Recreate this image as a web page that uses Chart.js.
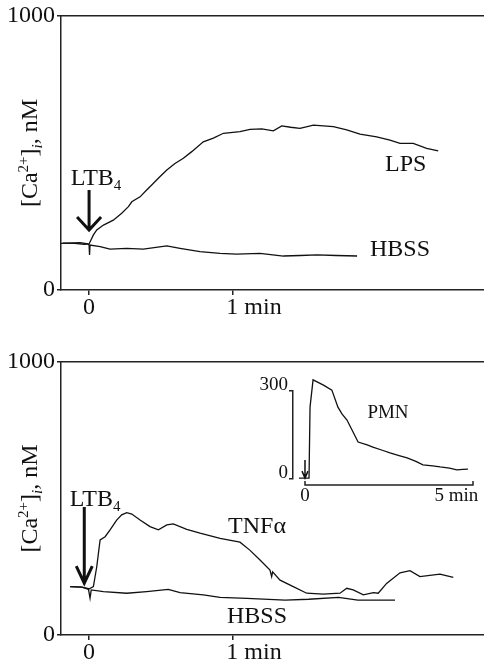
<!DOCTYPE html>
<html>
<head>
<meta charset="utf-8">
<script src="https://cdn.jsdelivr.net/npm/chart.js@4.4.0/dist/chart.umd.min.js"></script>
<style>
  body { margin: 0; background: #fff; }
  #wrap { position: relative; width: 484px; height: 667px; overflow: hidden; }
  canvas { position: absolute; }
</style>
</head>
<body>
<div id="wrap">
  <canvas id="top" width="484" height="330" style="left:0;top:0"></canvas>
  <canvas id="bottom" width="484" height="337" style="left:0;top:330px"></canvas>
  <canvas id="inset" width="234" height="150" style="left:250px;top:360px"></canvas>
</div>
<script>
// time in seconds after LTB4, [Ca2+]i in nM
var lpsSec = [-11, -6, -2, 0, 1.8, 3.2, 6.0, 10.1, 13.6, 16.4, 17.8, 21.25, 24, 26.1, 29.6, 32.4, 35.8, 39.3, 42.8, 47.6, 51.8, 56, 62.9, 67.1, 72, 76.8, 80.3, 84, 87.9, 93.5, 101.8, 107.4, 112.9, 119.9, 125.4, 129.6, 135.1, 140.7, 145.5];
var lpsCa = [171, 170, 167, 168, 201, 219, 237, 255, 280, 304, 322, 340, 365, 383, 414, 438, 462, 481, 505, 541, 554, 572, 578, 586, 588, 581, 599, 594, 590, 602, 596, 584, 569, 559, 547, 535, 535, 517, 508];

var hbssTopSec = [-12, -3.75, -0.5, 0, 0.2, 0.4, 4.6, 8.75, 15.7, 22.6, 32.4, 37.9, 46.25, 54.6, 61.5, 71.25, 81, 88, 95, 103, 111.7];
var hbssTopCa = [170, 173, 168, 164, 128, 164, 158, 149, 152, 149, 161, 152, 140, 134, 131, 134, 124, 126, 128, 126, 124];

var tnfSec = [-7.9, -3, -0.3, 1.8, 3.2, 4.6, 6.7, 8.75, 11.5, 13.6, 15.7, 17.8, 21.25, 25.4, 28.9, 32.4, 35.1, 40.7, 46.25, 54.6, 62.9, 67.1, 71.25, 75.4, 76.1, 76.5, 79.6, 85.1, 90.7, 97.6, 104.6, 107.4, 110.1, 114.3, 118.5, 120.5, 124, 129.6, 133.75, 137.9, 146.25, 151.8];
var tnfCa = [177, 175, 167, 177, 250, 348, 360, 385, 421, 440, 448, 443, 421, 397, 385, 403, 407, 387, 373, 354, 340, 310, 275, 238, 214, 231, 201, 177, 153, 150, 153, 171, 165, 147, 155, 153, 189, 228, 236, 214, 223, 211];

var hbssBotSec = [-7.9, -3, -0.3, 0.4, 0.9, 6.0, 15.7, 24, 33, 37.9, 47.6, 54.6, 65.8, 81.7, 91.5, 104, 112, 127.5];
var hbssBotCa = [177, 175, 170, 135, 165, 159, 153, 159, 167, 155, 147, 138, 134, 128, 131, 138, 128, 128];

// inset: PMN, time in minutes
var pmnMin = [-0.18, -0.03, 0.12, 0.15, 0.24, 0.36, 0.55, 0.8, 0.98, 1.1, 1.25, 1.4, 1.58, 1.85, 2.02, 2.3, 2.53, 2.8, 3.04, 3.3, 3.51, 3.8, 4.02, 4.3, 4.52, 4.7, 4.85];
var pmnCa = [3, 3, 3, 245, 338, 331, 320, 303, 245, 222, 201, 167, 126, 116, 109, 98, 89, 80, 72, 60, 48, 45, 41, 37, 31, 33, 34];

var yTicks = [0, 1000];
var xTicks = [0, 60];
var xTickLabels = ['0', '\u00a0\u00a0\u00a0\u00a0\u00a0\u00a0\u00a01 min'];
var insetYTicks = [0, 300];
var insetXTicks = [0, 5];
var insetXTickLabels = ['0', '5 min\u00a0\u00a0\u00a0\u00a0\u00a0\u00a0\u00a0'];

var INK = '#111';
var AXIS = '#222';
Chart.defaults.font.family = "'Liberation Serif', 'Times New Roman', serif";
Chart.defaults.color = INK;

function xy(xs, ys) {
  return xs.map(function (x, i) { return { x: x, y: ys[i] }; });
}

function fixSize(prop, val) {
  return function (scale) {
    scale[prop] = val;
    scale.paddingLeft = 0; scale.paddingRight = 0;
    scale.paddingTop = 0; scale.paddingBottom = 0;
  };
}

function setTicks(values) {
  return function (scale) {
    scale.ticks = values.map(function (v) { return { value: v }; });
  };
}

function plain(v) { return String(v); }

function drawRich(ctx, parts, cx, cy, size) {
  var fam = Chart.defaults.font.family;
  function fontOf(p) {
    return (p.italic ? 'italic ' : '') + (p.sup || p.sub ? Math.round(size * 0.62) : size) + 'px ' + fam;
  }
  var w = 0;
  parts.forEach(function (p) { ctx.font = fontOf(p); w += ctx.measureText(p.t).width; });
  var x = cx - w / 2;
  var base = cy + size * 0.33;
  ctx.textBaseline = 'alphabetic';
  ctx.textAlign = 'left';
  ctx.fillStyle = INK;
  parts.forEach(function (p) {
    ctx.font = fontOf(p);
    var dy = p.sup ? -size * 0.38 : (p.sub ? size * 0.22 : 0);
    ctx.fillText(p.t, x, base + dy);
    x += ctx.measureText(p.t).width;
  });
}

function drawArrow(ctx, x, y1, y2, hw, hh, lw) {
  ctx.strokeStyle = INK;
  ctx.lineWidth = lw;
  ctx.lineJoin = 'miter';
  ctx.beginPath();
  ctx.moveTo(x, y1);
  ctx.lineTo(x, y2);
  ctx.moveTo(x - hw, y2 - hh);
  ctx.lineTo(x, y2);
  ctx.lineTo(x + hw, y2 - hh);
  ctx.stroke();
}

var notesPlugin = {
  id: 'notes',
  afterDatasetsDraw: function (chart, args, opts) {
    var ctx = chart.ctx, xs = chart.scales.x, ys = chart.scales.y;
    ctx.save();
    (opts.arrows || []).forEach(function (a) {
      drawArrow(ctx, xs.getPixelForValue(a.x), ys.getPixelForValue(a.from), ys.getPixelForValue(a.to), a.hw, a.hh, a.lw);
    });
    (opts.labels || []).forEach(function (l) {
      drawRich(ctx, l.parts, xs.getPixelForValue(l.x), ys.getPixelForValue(l.y), l.size);
    });
    if (opts.yTitle) {
      var ca = chart.chartArea;
      ctx.translate(opts.yTitle.x, (ca.top + ca.bottom) / 2);
      ctx.rotate(-Math.PI / 2);
      drawRich(ctx, opts.yTitle.parts, 0, 0, opts.yTitle.size);
      ctx.setTransform(1, 0, 0, 1, 0, 0);
    }
    if (opts.axisLine) {
      var a = opts.axisLine;
      var yb = chart.chartArea.bottom + a.offset;
      var x0 = xs.getPixelForValue(a.from), x1 = xs.getPixelForValue(a.to);
      ctx.strokeStyle = AXIS;
      ctx.lineWidth = 1.5;
      ctx.beginPath();
      ctx.moveTo(x0, yb - a.tick); ctx.lineTo(x0, yb); ctx.lineTo(x1, yb); ctx.lineTo(x1, yb - a.tick);
      ctx.stroke();
    }
    ctx.restore();
  }
};

var caTitle = [{ t: '[Ca' }, { t: '2+', sup: true }, { t: ']' }, { t: 'i', sub: true, italic: true }, { t: ', nM' }];
var ltb4 = [{ t: 'LTB' }, { t: '4', sub: true }];

function trace(points) {
  return { data: points, borderColor: INK, borderWidth: 1.3, pointRadius: 0, tension: 0, fill: false };
}

function panel(id, datasets, topH, bottomH, notes) {
  return new Chart(document.getElementById(id), {
    type: 'line',
    data: { datasets: datasets },
    plugins: [notesPlugin],
    options: {
      responsive: false,
      animation: false,
      layout: { padding: 0 },
      plugins: { legend: { display: false }, tooltip: { enabled: false }, notes: notes },
      scales: {
        x: {
          type: 'linear', position: 'bottom', min: -11.7, max: 164.6,
          afterBuildTicks: setTicks(xTicks),
          afterFit: fixSize('height', bottomH),
          ticks: {
            callback: function (v, i) { return xTickLabels[i]; },
            autoSkip: false, maxRotation: 0, padding: 0,
            font: { size: 24, lineHeight: 1.1 }
          },
          grid: { drawOnChartArea: false, drawTicks: true, tickLength: 5, color: AXIS, lineWidth: 1.5 },
          border: { color: AXIS, width: 1.5 }
        },
        x2: {
          type: 'linear', position: 'top',
          afterFit: fixSize('height', topH),
          ticks: { display: false },
          grid: { display: false, drawTicks: false },
          border: { color: AXIS, width: 1.5 }
        },
        y: {
          type: 'linear', min: 0, max: 1000,
          afterBuildTicks: setTicks(yTicks),
          afterFit: fixSize('width', 61),
          ticks: { callback: plain, padding: 2, font: { size: 24, lineHeight: 1.1 } },
          grid: { drawOnChartArea: false, drawTicks: true, tickLength: 4, color: AXIS, lineWidth: 1.5 },
          border: { color: AXIS, width: 1.5 }
        }
      }
    }
  });
}

panel('top', [trace(xy(hbssTopSec, hbssTopCa)), trace(xy(lpsSec, lpsCa))], 16, 40, {
  yTitle: { x: 29, size: 24, parts: caTitle },
  arrows: [{ x: 0, from: 365, to: 219, hw: 12, hh: 13, lw: 3 }],
  labels: [
    { x: 2.9, y: 412, size: 24, parts: ltb4 },
    { x: 132, y: 463, size: 24, parts: [{ t: 'LPS' }] },
    { x: 129.6, y: 153, size: 24, parts: [{ t: 'HBSS' }] }
  ]
});

panel('bottom', [trace(xy(hbssBotSec, hbssBotCa)), trace(xy(tnfSec, tnfCa))], 32, 32, {
  yTitle: { x: 29, size: 24, parts: caTitle },
  arrows: [{ x: -2, from: 469, to: 190, hw: 8, hh: 17, lw: 3 }],
  labels: [
    { x: 2.5, y: 502, size: 24, parts: ltb4 },
    { x: 70, y: 403, size: 24, parts: [{ t: 'TNF\u03b1' }] },
    { x: 70, y: 73, size: 24, parts: [{ t: 'HBSS' }] }
  ]
});

new Chart(document.getElementById('inset'), {
  type: 'line',
  data: { datasets: [Object.assign(trace(xy(pmnMin, pmnCa)), { clip: false })] },
  plugins: [notesPlugin],
  options: {
    responsive: false,
    animation: false,
    layout: { padding: { top: 31, right: 11, left: 0, bottom: 0 } },
    plugins: {
      legend: { display: false }, tooltip: { enabled: false },
      notes: {
        axisLine: { from: 0, to: 5, offset: 6, tick: 4 },
        arrows: [{ x: 0, from: 65, to: 3, hw: 3, hh: 7, lw: 1.5 }],
        labels: [{ x: 2.47, y: 228, size: 19, parts: [{ t: 'PMN' }] }]
      }
    },
    scales: {
      x: {
        type: 'linear', min: -0.357, max: 5,
        afterBuildTicks: setTicks(insetXTicks),
        afterFit: fixSize('height', 31),
        ticks: {
          callback: function (v, i) { return insetXTickLabels[i]; },
          autoSkip: false, maxRotation: 0, padding: 7,
          font: { size: 19, lineHeight: 1.1 }
        },
        grid: { display: false, drawTicks: false },
        border: { display: false }
      },
      y: {
        type: 'linear', min: 0, max: 300,
        afterBuildTicks: setTicks(insetYTicks),
        afterFit: fixSize('width', 43),
        ticks: { callback: plain, padding: 1, labelOffset: -6, font: { size: 19, lineHeight: 1.1 } },
        grid: { drawOnChartArea: false, drawTicks: true, tickLength: 4, color: AXIS, lineWidth: 1.5 },
        border: { color: AXIS, width: 1.5 }
      }
    }
  }
});
</script>
</body>
</html>
